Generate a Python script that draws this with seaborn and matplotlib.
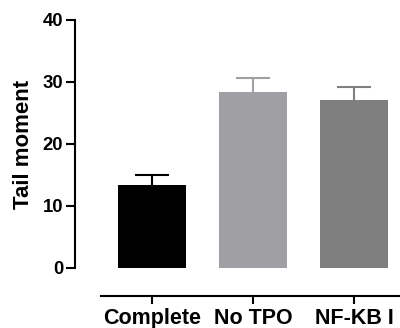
import numpy as np
import matplotlib
matplotlib.use('Agg')
import matplotlib.pyplot as plt
import seaborn as sns

# data
groups = ['Complete', 'No TPO', 'NF-KB I']
means = [13.4, 28.4, 27.1]
errs = [1.6, 2.3, 2.1]
colors = ['#000000', '#A0A0A4', '#7F7F7F']
yticks = [0, 10, 20, 30, 40]

sns.set_style('ticks')
plt.rcParams['font.family'] = ['Liberation Sans', 'DejaVu Sans']
plt.rcParams['font.weight'] = 'bold'
plt.rcParams['text.color'] = 'black'
plt.rcParams['axes.labelcolor'] = 'black'
plt.rcParams['axes.edgecolor'] = 'black'
plt.rcParams['xtick.color'] = 'black'
plt.rcParams['ytick.color'] = 'black'

fig = plt.figure(figsize=(4, 3.28), dpi=100)
ax = fig.add_axes([75/400, 1-268/328, 325/400, 248/328])

sns.barplot(x=groups, y=means, hue=groups, palette=colors, width=0.67,
            legend=False, ax=ax, saturation=1, edgecolor='none')

# error bars behind the bars so only the upper half shows
for i in range(len(groups)):
    ax.errorbar(i, means[i], yerr=errs[i], fmt='none', ecolor=colors[i],
                elinewidth=1.5, capsize=12, capthick=1.5, zorder=0.5)

ax.set_xlim(-0.762, 2.455)
ax.set_ylim(0, 40)
ax.set_yticks(yticks)
ax.set_ylabel('Tail moment', fontsize=16, fontweight='bold', labelpad=6)
ax.set_xlabel('')

ax.spines['top'].set_visible(False)
ax.spines['right'].set_visible(False)
ax.spines['left'].set_linewidth(1.5)
ax.spines['bottom'].set_linewidth(1.5)
ax.spines['bottom'].set_position(('outward', 20))
ax.spines['bottom'].set_bounds(-0.505, 2.455)

ax.tick_params(axis='y', length=6.5, width=1.5, pad=2, labelsize=13.3)
ax.tick_params(axis='x', length=5.5, width=1.5, pad=3, labelsize=15.5)
for lab in ax.get_xticklabels() + ax.get_yticklabels():
    lab.set_fontweight('bold')

fig.savefig('out.png', dpi=100)
